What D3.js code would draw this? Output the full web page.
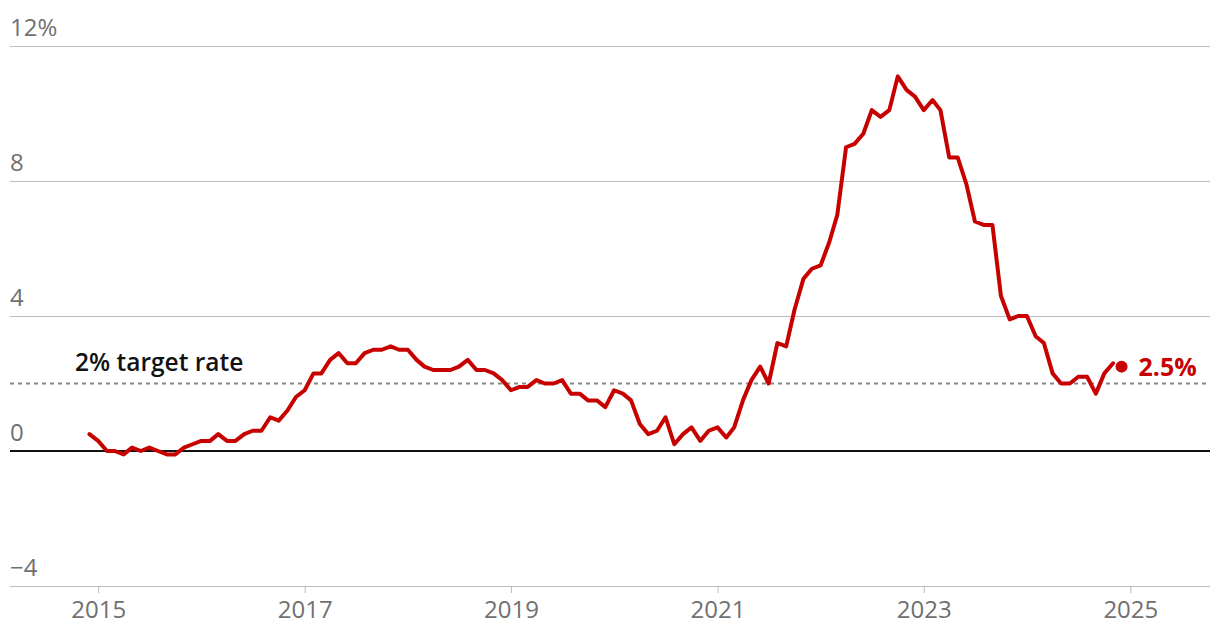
<!DOCTYPE html>
<html><head><meta charset="utf-8">
<script src="https://cdn.jsdelivr.net/npm/d3@7"></script>
<style>
html,body{margin:0;padding:0;background:#fff;}
svg{display:block;font-family:"Open Sans","Noto Sans",sans-serif;}
</style></head>
<body><svg id="chart" width="1220" height="644"></svg>
<script>
// Monthly UK CPI annual rate, Dec 2014 – Dec 2024
const startYear = 2014, startMonth = 12;
const cpiValues = [
  0.5,
  0.3,0.0,0.0,-0.1,0.1,0.0,0.1,0.0,-0.1,-0.1,0.1,0.2,
  0.3,0.3,0.5,0.3,0.3,0.5,0.6,0.6,1.0,0.9,1.2,1.6,
  1.8,2.3,2.3,2.7,2.9,2.6,2.6,2.9,3.0,3.0,3.1,3.0,
  3.0,2.7,2.5,2.4,2.4,2.4,2.5,2.7,2.4,2.4,2.3,2.1,
  1.8,1.9,1.9,2.1,2.0,2.0,2.1,1.7,1.7,1.5,1.5,1.3,
  1.8,1.7,1.5,0.8,0.5,0.6,1.0,0.2,0.5,0.7,0.3,0.6,
  0.7,0.4,0.7,1.5,2.1,2.5,2.0,3.2,3.1,4.2,5.1,5.4,
  5.5,6.2,7.0,9.0,9.1,9.4,10.1,9.9,10.1,11.1,10.7,10.5,
  10.1,10.4,10.1,8.7,8.7,7.9,6.8,6.7,6.7,4.6,3.9,4.0,
  4.0,3.4,3.2,2.3,2.0,2.0,2.2,2.2,1.7,2.3,2.6,2.5
];
const yTicks = [12, 8, 4, 0, -4];
const xTickYears = [2015, 2017, 2019, 2021, 2023, 2025];
const targetRate = 2;
const targetLabel = "2% target rate";

const data = cpiValues.map((v, i) => {
  const m0 = (startMonth - 1) + i;
  return { date: new Date(startYear + Math.floor(m0 / 12), m0 % 12, 1), value: v };
});
const lineData = data.slice(0, data.length - 1);
const last = data[data.length - 1];

const svg = d3.select("#chart");
const left = 10, right = 1210;
const x = d3.scaleTime()
  .domain([new Date(2014, 1, 23), new Date(2025, 9, 10)])
  .range([left, right]);
const y = d3.scaleLinear().domain([-4, 12]).range([586, 46]);

// gridlines
const grid = svg.append("g");
yTicks.forEach(t => {
  if (t === 0) return;
  grid.append("line").attr("x1", left).attr("x2", right)
    .attr("y1", y(t)).attr("y2", y(t))
    .attr("stroke", "#bdbdbd").attr("stroke-width", 1).attr("shape-rendering", "crispEdges");
  grid.append("text").attr("x", left).attr("y", y(t) - 10)
    .attr("fill", "#707070").attr("font-size", 24)
    .text((t < 0 ? "\u2212" + Math.abs(t) : t) + (t === 12 ? "%" : ""));
});
grid.append("text").attr("x", left).attr("y", y(0) - 10)
  .attr("fill", "#707070").attr("font-size", 24).text("0");

// x axis
const xAxis = d3.axisBottom(x)
  .tickValues(xTickYears.map(yy => new Date(yy, 0, 1)))
  .tickFormat(d3.timeFormat("%Y"))
  .tickSize(7).tickPadding(8);
const gx = svg.append("g").attr("transform", `translate(0,${y(-4)})`).call(xAxis);
gx.select(".domain").remove();
gx.selectAll(".tick line").attr("stroke", "#bdbdbd");
gx.selectAll(".tick text").attr("fill", "#707070").attr("font-size", 24)
  .attr("font-family", "'Open Sans','Noto Sans',sans-serif");

// target dashed line
svg.append("line").attr("x1", left).attr("x2", right)
  .attr("y1", y(targetRate)).attr("y2", y(targetRate))
  .attr("stroke", "#888").attr("stroke-width", 2).attr("stroke-dasharray", "4,4");
svg.append("text").attr("x", 75).attr("y", y(targetRate) - 13)
  .attr("fill", "#121212").attr("font-size", 24.5).attr("font-weight", 600)
  .text(targetLabel);

// zero line
svg.append("line").attr("x1", left).attr("x2", right)
  .attr("y1", y(0)).attr("y2", y(0))
  .attr("stroke", "#121212").attr("stroke-width", 2);

// data line
const line = d3.line().x(d => x(d.date)).y(d => y(d.value)).curve(d3.curveLinear);
svg.append("path").datum(lineData).attr("d", line)
  .attr("fill", "none").attr("stroke", "#c70000").attr("stroke-width", 4)
  .attr("stroke-linejoin", "round").attr("stroke-linecap", "round");

svg.append("circle").attr("cx", x(last.date)).attr("cy", y(last.value)).attr("r", 6)
  .attr("fill", "#c70000");
svg.append("text").attr("x", x(last.date) + 17).attr("y", y(last.value) + 9)
  .attr("fill", "#c70000").attr("font-size", 25).attr("font-weight", 700)
  .text(last.value.toFixed(1) + "%");
</script></body></html>
